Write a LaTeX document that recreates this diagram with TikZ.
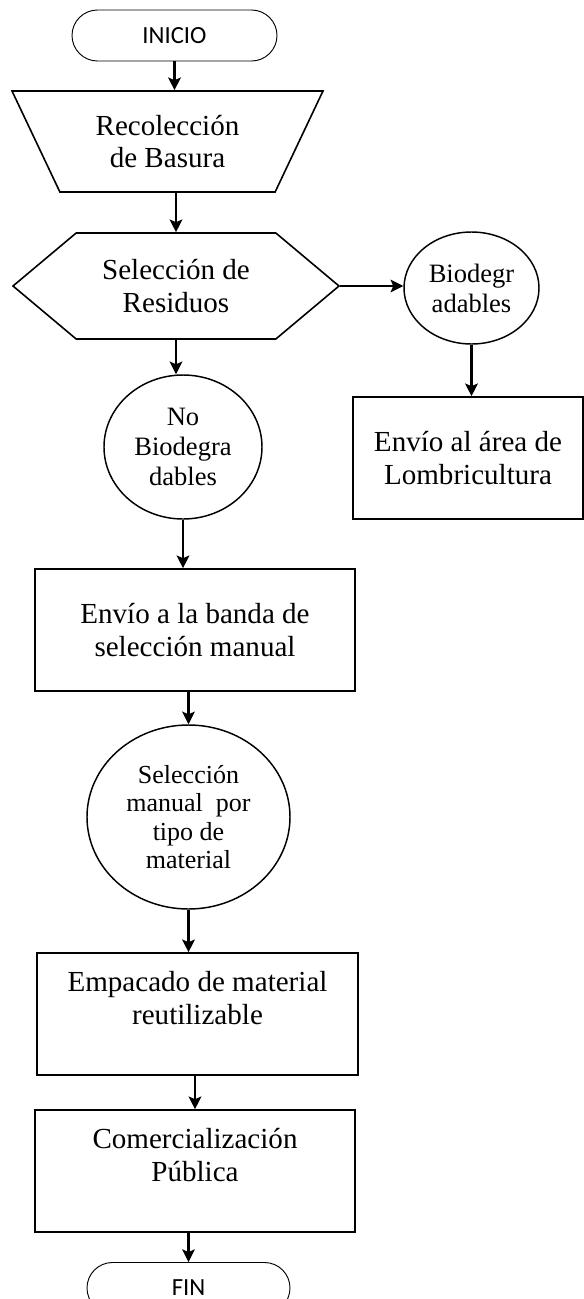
\documentclass[tikz,border=0pt]{standalone}
\usepackage{fontspec}
\setmainfont{Liberation Serif}
\newfontfamily\calibri{Carlito}
\usetikzlibrary{shapes.geometric,shapes.misc,shapes.symbols,arrows.meta}

\begin{document}
\begin{tikzpicture}[x=0.75pt,y=0.75pt,yscale=-1,xscale=1,
  terminal/.style={rounded rectangle,draw,line width=0.7pt,inner sep=0pt,font=\calibri\fontsize{18.5}{22}\selectfont},
  boxtxt/.style={align=center,font=\fontsize{21.8}{24.5}\selectfont},
  proc/.style={rectangle,draw,line width=1.2pt,inner sep=0pt,boxtxt,minimum height=91.5pt},
  circtxt/.style={ellipse,draw,line width=1.1pt,inner sep=0pt,align=center},
  flecha/.style={line width=1.6pt,-{Stealth[length=9.5pt,width=9.5pt,inset=2pt]}}]
\useasboundingbox (0,0) rectangle (584,1299);
\clip (0,0) rectangle (584,1299);

% Inicio
\node[terminal,minimum width=153.75pt,minimum height=38.25pt] (inicio) at (174.5,35.5) {INICIO};
% Recoleccion
\node[trapezium,draw,line width=1.2pt,inner sep=0pt,trapezium left angle=59,trapezium right angle=59,
  shape border rotate=180,trapezium stretches=true,minimum width=233.25pt,minimum height=75.75pt,boxtxt]
  (recol) at (167.5,141.5) {Recolección\\de Basura};
% Seleccion de residuos
\node[signal,draw,line width=1.2pt,inner sep=0pt,signal to=west and east,signal pointer angle=80,
  minimum width=244.5pt,minimum height=79.5pt,boxtxt] (selres) at (176,286) {Selección de\\Residuos};
% Circulos
\node[circtxt,minimum width=101.25pt,minimum height=84pt,font=\fontsize{19.9}{22.5}\selectfont]
  (bio) at (471.5,288) {Biodegr\\adables};
\node[circtxt,minimum width=118.5pt,minimum height=108pt,font=\fontsize{19.9}{22.5}\selectfont]
  (nobio) at (183,447) {No\\Biodegra\\dables};
\node[circtxt,minimum width=152.25pt,minimum height=138pt,font=\fontsize{19.5}{21.4}\selectfont]
  (selman) at (188.5,817) {Selección\\manual\ \ por\\tipo de\\material};
% Procesos
\node[proc,minimum width=172.5pt] (lombri) at (468,458) {Envío al área de\\Lombricultura};
\node[proc,minimum width=240pt] (banda) at (195,630) {Envío a la banda de\\selección manual};
\node[proc,minimum width=240.75pt] (empac) at (197.5,1014) {Empacado de material\\reutilizable\\~};
\node[proc,minimum width=240pt] (comer) at (195,1171) {Comercialización\\Pública\\~};
% Fin
\node[terminal,minimum width=152.25pt,minimum height=38.25pt,text depth=0pt] (fin) at (188.5,1288) {FIN};

% Flechas
\draw[flecha] (inicio.south) -- (inicio.south |- recol.north);
\draw[flecha] (selres.north |- recol.south) -- (selres.north);
\draw[flecha] (selres.east) -- (selres.east -| bio.west);
\draw[flecha] (selres.south) -- (selres.south |- nobio.north);
\draw[flecha] (bio.south) -- (bio.south |- lombri.north);
\draw[flecha] (nobio.south) -- (nobio.south |- banda.north);
\draw[flecha] (selman.north |- banda.south) -- (selman.north);
\draw[flecha] (selman.south) -- (selman.south |- empac.north);
\draw[flecha] (comer.north |- empac.south) -- (comer.north);
\draw[flecha] (fin.north |- comer.south) -- (fin.north);

\end{tikzpicture}
\end{document}
